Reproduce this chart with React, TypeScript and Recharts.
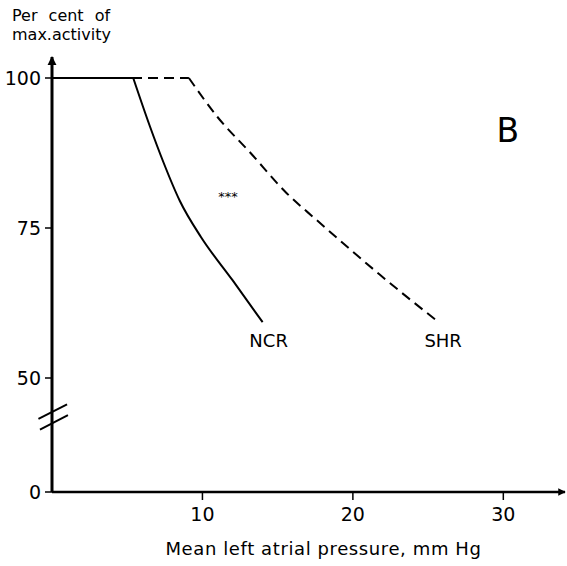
import { LineChart, Line, XAxis, YAxis, ReferenceDot, ReferenceLine } from 'recharts';

const ncrPressure = [0, 5.4, 6.5, 7.4, 8.5, 9.9, 12, 14];
const ncrActivity = [100, 100, 92, 86, 79.5, 73.5, 66.3, 59.3];

const shrPressure = [0, 9.1, 11, 13.2, 15.6, 17.6, 19.7, 21.8, 25.7];
const shrActivity = [100, 100, 93.5, 87.5, 80.8, 76.3, 71.7, 67.2, 59.3];

const xTicks = [10, 20, 30];
const yTicks = [0, 50, 75, 100];

// values below 50 sit on a compressed stretch of the axis (broken axis)
const BREAK_FROM = 50;
const BREAK_SQUEEZE = 0.38;
const toAxis = (v: number) => (v >= BREAK_FROM ? v : BREAK_FROM - (BREAK_FROM - v) * BREAK_SQUEEZE);
const fromAxis = (a: number) =>
  a >= BREAK_FROM ? a : Math.round(BREAK_FROM - (BREAK_FROM - a) / BREAK_SQUEEZE);

const ncrData = ncrPressure.map((x, i) => ({ x, y: toAxis(ncrActivity[i]) }));
const shrData = shrPressure.map((x, i) => ({ x, y: toAxis(shrActivity[i]) }));

const FONT = 'DejaVu Sans, sans-serif';

const XTitle = ({ viewBox }: any) => {
  const { x, y, width } = viewBox;
  return (
    <text x={x + width / 2 + 15} y={y + 63} textAnchor="middle" fontSize={18} letterSpacing={0.6} fill="#000">
      Mean left atrial pressure, mm Hg
    </text>
  );
};

const YTitle = ({ viewBox }: any) => {
  const { y } = viewBox;
  return (
    <text fontSize={16} fill="#000">
      <tspan x={12} y={y - 36} wordSpacing={6}>Per cent of</tspan>
      <tspan x={12} y={y - 17}>max.activity</tspan>
    </text>
  );
};

// position of the break marks on the (compressed) axis
const breakY = 43;

export default function App() {
  return (
    <div style={{ width: 567, height: 566, fontFamily: FONT, background: '#fff' }}>
      <style>{'body{margin:0}'}</style>
      <LineChart
        width={567}
        height={566}
        margin={{ top: 57, right: 2, bottom: 0, left: 0 }}
        style={{ fontFamily: FONT }}
      >
        <defs>
          <marker id="axisArrow" viewBox="0 0 10 10" refX="9" refY="5" markerWidth="3" markerHeight="3.5" orient="auto-start-reverse">
            <path d="M0,0 L10,5 L0,10 z" fill="#000" />
          </marker>
        </defs>
        <XAxis
          type="number"
          dataKey="x"
          domain={[0, 34.1]}
          ticks={xTicks}
          interval={0}
          allowDataOverflow
          height={74}
          tickSize={8}
          tickMargin={8}
          tick={{ fill: '#000', fontSize: 19 }}
          tickLine={{ stroke: '#000', strokeWidth: 1.5 }}
          axisLine={{ stroke: '#000', strokeWidth: 2.5, markerEnd: 'url(#axisArrow)' }}
          label={{ content: XTitle }}
        />
        <YAxis
          type="number"
          dataKey="y"
          domain={[toAxis(0), 103.5]}
          ticks={yTicks.map(toAxis)}
          tickFormatter={(v: number) => String(fromAxis(v))}
          interval={0}
          allowDataOverflow
          width={52}
          tickSize={7}
          tickMargin={4}
          tick={{ fill: '#000', fontSize: 19 }}
          tickLine={{ stroke: '#000', strokeWidth: 1.5 }}
          axisLine={{ stroke: '#000', strokeWidth: 3, markerStart: 'url(#axisArrow)' }}
          label={{ content: YTitle }}
        />
        <ReferenceLine
          segment={[{ x: -0.9, y: breakY + 0.2 }, { x: 1.0, y: breakY + 2.6 }]}
          stroke="#000"
          strokeWidth={2}
          ifOverflow="visible"
        />
        <ReferenceLine
          segment={[{ x: -0.8, y: breakY - 1.6 }, { x: 1.06, y: breakY + 0.8 }]}
          stroke="#000"
          strokeWidth={2}
          ifOverflow="visible"
        />
        {/* flat plateau drawn straight, the fall drawn as a smooth curve */}
        <Line
          data={shrData.slice(0, 2)}
          dataKey="y"
          type="linear"
          stroke="#000"
          strokeWidth={2}
          strokeDasharray="10 6"
          dot={false}
          isAnimationActive={false}
        />
        <Line
          data={shrData.slice(1)}
          dataKey="y"
          type="monotone"
          stroke="#000"
          strokeWidth={2}
          strokeDasharray="10 6"
          dot={false}
          isAnimationActive={false}
        />
        <Line
          data={ncrData.slice(0, 2)}
          dataKey="y"
          type="linear"
          stroke="#000"
          strokeWidth={2}
          dot={false}
          isAnimationActive={false}
        />
        <Line
          data={ncrData.slice(1)}
          dataKey="y"
          type="monotone"
          stroke="#000"
          strokeWidth={2}
          dot={false}
          isAnimationActive={false}
        />
        <ReferenceDot x={30.3} y={91.3} r={0} fill="none" stroke="none" ifOverflow="visible"
          label={{ value: 'B', position: 'center', fontSize: 33, fill: '#000' }} />
        <ReferenceDot x={11.7} y={80.2} r={0} fill="none" stroke="none" ifOverflow="visible"
          label={{ value: '***', position: 'center', fontSize: 13, fill: '#000' }} />
        <ReferenceDot x={14.4} y={56.3} r={0} fill="none" stroke="none" ifOverflow="visible"
          label={{ value: 'NCR', position: 'center', fontSize: 18, fill: '#000' }} />
        <ReferenceDot x={26.0} y={56.3} r={0} fill="none" stroke="none" ifOverflow="visible"
          label={{ value: 'SHR', position: 'center', fontSize: 18, fill: '#000' }} />
      </LineChart>
    </div>
  );
}
